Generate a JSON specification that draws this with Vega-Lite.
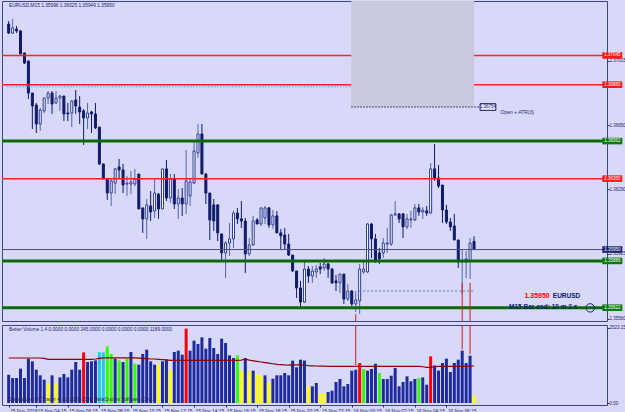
{
"$schema": "https://vega.github.io/schema/vega-lite/v6.json",
"background": "#d8d8f8",
"padding": 0,
"spacing": 2,
"config": {
  "font": "Liberation Sans",
  "view": {"stroke": "#3a4490", "strokeWidth": 1, "fill": "#d8d8f8"},
  "axis": {"labelFont": "Liberation Sans", "labelFontSize": 4.5, "labelColor": "#1c2470", "tickColor": "#1c2470", "tickSize": 2, "labelPadding": 0, "domain": false, "grid": false, "labelOverlap": false}
},
"resolve": {"scale": {"x": "independent", "y": "independent", "color": "independent"}},
"datasets": {
  "levels": [
    {"p": 1.37045, "kind": "res"},
    {"p": 1.36880, "kind": "res"},
    {"p": 1.36562, "kind": "sup"},
    {"p": 1.36350, "kind": "res"},
    {"p": 1.35950, "kind": "bid"},
    {"p": 1.35886, "kind": "sup"},
    {"p": 1.35622, "kind": "sup"}
  ],
  "bars": [
{"t":"2018-11-15T02:30:00Z","o":1.37222,"h":1.37239,"l":1.37166,"c":1.37171,"v":953,"vc":"n","ma":1514},
{"t":"2018-11-15T02:45:00Z","o":1.37171,"h":1.37251,"l":1.37166,"c":1.37200,"v":841,"vc":"n","ma":1514},
{"t":"2018-11-15T03:00:00Z","o":1.37194,"h":1.37211,"l":1.37171,"c":1.37183,"v":841,"vc":"n","ma":1514},
{"t":"2018-11-15T03:15:00Z","o":1.37183,"h":1.37188,"l":1.37053,"c":1.37053,"v":1155,"vc":"n","ma":1514},
{"t":"2018-11-15T03:30:00Z","o":1.37059,"h":1.37059,"l":1.36997,"c":1.37002,"v":841,"vc":"n","ma":1514},
{"t":"2018-11-15T03:45:00Z","o":1.37014,"h":1.37014,"l":1.36799,"c":1.36833,"v":1491,"vc":"n","ma":1514},
{"t":"2018-11-15T04:00:00Z","o":1.36833,"h":1.36833,"l":1.36630,"c":1.36760,"v":1402,"vc":"n","ma":1514},
{"t":"2018-11-15T04:15:00Z","o":1.36765,"h":1.36777,"l":1.36608,"c":1.36658,"v":1121,"vc":"n","ma":1514},
{"t":"2018-11-15T04:30:00Z","o":1.36658,"h":1.36749,"l":1.36619,"c":1.36737,"v":931,"vc":"n","ma":1514},
{"t":"2018-11-15T04:45:00Z","o":1.36732,"h":1.36805,"l":1.36720,"c":1.36805,"v":785,"vc":"n","ma":1500},
{"t":"2018-11-15T05:00:00Z","o":1.36805,"h":1.36844,"l":1.36771,"c":1.36833,"v":673,"vc":"y","ma":1470},
{"t":"2018-11-15T05:15:00Z","o":1.36833,"h":1.36844,"l":1.36715,"c":1.36771,"v":931,"vc":"n","ma":1470},
{"t":"2018-11-15T05:30:00Z","o":1.36777,"h":1.36844,"l":1.36771,"c":1.36805,"v":673,"vc":"y","ma":1470},
{"t":"2018-11-15T05:45:00Z","o":1.36805,"h":1.36822,"l":1.36732,"c":1.36816,"v":863,"vc":"n","ma":1470},
{"t":"2018-11-15T06:00:00Z","o":1.36816,"h":1.36816,"l":1.36675,"c":1.36715,"v":976,"vc":"n","ma":1470},
{"t":"2018-11-15T06:15:00Z","o":1.36720,"h":1.36777,"l":1.36675,"c":1.36715,"v":863,"vc":"n","ma":1470},
{"t":"2018-11-15T06:30:00Z","o":1.36720,"h":1.36794,"l":1.36641,"c":1.36788,"v":1121,"vc":"n","ma":1470},
{"t":"2018-11-15T06:45:00Z","o":1.36794,"h":1.36850,"l":1.36715,"c":1.36760,"v":1379,"vc":"n","ma":1470},
{"t":"2018-11-15T07:00:00Z","o":1.36754,"h":1.36816,"l":1.36658,"c":1.36726,"v":1121,"vc":"n","ma":1470},
{"t":"2018-11-15T07:15:00Z","o":1.36732,"h":1.36743,"l":1.36540,"c":1.36692,"v":1704,"vc":"r","ma":1470},
{"t":"2018-11-15T07:30:00Z","o":1.36692,"h":1.36777,"l":1.36630,"c":1.36720,"v":1379,"vc":"n","ma":1470},
{"t":"2018-11-15T07:45:00Z","o":1.36726,"h":1.36732,"l":1.36608,"c":1.36715,"v":1402,"vc":"n","ma":1470},
{"t":"2018-11-15T08:00:00Z","o":1.36715,"h":1.36777,"l":1.36630,"c":1.36636,"v":1435,"vc":"n","ma":1480},
{"t":"2018-11-15T08:15:00Z","o":1.36641,"h":1.36641,"l":1.36427,"c":1.36433,"v":1704,"vc":"c","ma":1500},
{"t":"2018-11-15T08:30:00Z","o":1.36433,"h":1.36433,"l":1.36348,"c":1.36348,"v":1704,"vc":"c","ma":1520},
{"t":"2018-11-15T08:45:00Z","o":1.36348,"h":1.36354,"l":1.36230,"c":1.36269,"v":1906,"vc":"g","ma":1520},
{"t":"2018-11-15T09:00:00Z","o":1.36269,"h":1.36354,"l":1.36196,"c":1.36337,"v":1648,"vc":"g","ma":1520},
{"t":"2018-11-15T09:15:00Z","o":1.36325,"h":1.36410,"l":1.36263,"c":1.36405,"v":1491,"vc":"n","ma":1520},
{"t":"2018-11-15T09:30:00Z","o":1.36416,"h":1.36461,"l":1.36348,"c":1.36399,"v":1435,"vc":"g","ma":1520},
{"t":"2018-11-15T09:45:00Z","o":1.36399,"h":1.36433,"l":1.36269,"c":1.36314,"v":1379,"vc":"n","ma":1520},
{"t":"2018-11-15T10:00:00Z","o":1.36320,"h":1.36365,"l":1.36252,"c":1.36325,"v":1491,"vc":"g","ma":1520},
{"t":"2018-11-15T10:15:00Z","o":1.36320,"h":1.36393,"l":1.36263,"c":1.36331,"v":1716,"vc":"n","ma":1520},
{"t":"2018-11-15T10:30:00Z","o":1.36320,"h":1.36405,"l":1.36308,"c":1.36348,"v":1323,"vc":"g","ma":1520},
{"t":"2018-11-15T10:45:00Z","o":1.36376,"h":1.36376,"l":1.36179,"c":1.36179,"v":1290,"vc":"n","ma":1510},
{"t":"2018-11-15T11:00:00Z","o":1.36185,"h":1.36185,"l":1.36044,"c":1.36123,"v":1648,"vc":"n","ma":1500},
{"t":"2018-11-15T11:15:00Z","o":1.36123,"h":1.36235,"l":1.36010,"c":1.36202,"v":1794,"vc":"n","ma":1490},
{"t":"2018-11-15T11:30:00Z","o":1.36196,"h":1.36280,"l":1.36111,"c":1.36162,"v":1402,"vc":"n","ma":1480},
{"t":"2018-11-15T11:45:00Z","o":1.36168,"h":1.36348,"l":1.36128,"c":1.36269,"v":1290,"vc":"n","ma":1480},
{"t":"2018-11-15T12:00:00Z","o":1.36263,"h":1.36269,"l":1.36123,"c":1.36179,"v":1290,"vc":"y","ma":1470},
{"t":"2018-11-15T12:15:00Z","o":1.36179,"h":1.36405,"l":1.36179,"c":1.36405,"v":1402,"vc":"n","ma":1460},
{"t":"2018-11-15T12:30:00Z","o":1.36405,"h":1.36455,"l":1.36224,"c":1.36241,"v":1458,"vc":"n","ma":1450},
{"t":"2018-11-15T12:45:00Z","o":1.36241,"h":1.36376,"l":1.36213,"c":1.36348,"v":1121,"vc":"y","ma":1435},
{"t":"2018-11-15T13:00:00Z","o":1.36348,"h":1.36376,"l":1.36179,"c":1.36207,"v":1716,"vc":"n","ma":1435},
{"t":"2018-11-15T13:15:00Z","o":1.36207,"h":1.36291,"l":1.36123,"c":1.36241,"v":1760,"vc":"n","ma":1435},
{"t":"2018-11-15T13:30:00Z","o":1.36241,"h":1.36297,"l":1.36140,"c":1.36207,"v":1626,"vc":"n","ma":1435},
{"t":"2018-11-15T13:45:00Z","o":1.36207,"h":1.36512,"l":1.36151,"c":1.36337,"v":2501,"vc":"r","ma":1435},
{"t":"2018-11-15T14:00:00Z","o":1.36252,"h":1.36354,"l":1.36196,"c":1.36331,"v":1760,"vc":"n","ma":1435},
{"t":"2018-11-15T14:15:00Z","o":1.36325,"h":1.36562,"l":1.36320,"c":1.36506,"v":2097,"vc":"n","ma":1435},
{"t":"2018-11-15T14:30:00Z","o":1.36495,"h":1.36658,"l":1.36467,"c":1.36602,"v":1985,"vc":"n","ma":1435},
{"t":"2018-11-15T14:45:00Z","o":1.36602,"h":1.36658,"l":1.36376,"c":1.36376,"v":2209,"vc":"n","ma":1435},
{"t":"2018-11-15T15:00:00Z","o":1.36376,"h":1.36382,"l":1.36207,"c":1.36269,"v":1828,"vc":"n","ma":1435},
{"t":"2018-11-15T15:15:00Z","o":1.36269,"h":1.36269,"l":1.36004,"c":1.36117,"v":2187,"vc":"n","ma":1435},
{"t":"2018-11-15T15:30:00Z","o":1.36202,"h":1.36235,"l":1.36055,"c":1.36111,"v":1850,"vc":"n","ma":1435},
{"t":"2018-11-15T15:45:00Z","o":1.36202,"h":1.36202,"l":1.35998,"c":1.36044,"v":1648,"vc":"n","ma":1435},
{"t":"2018-11-15T16:00:00Z","o":1.36038,"h":1.36038,"l":1.35886,"c":1.35931,"v":2164,"vc":"n","ma":1435},
{"t":"2018-11-15T16:15:00Z","o":1.35931,"h":1.35998,"l":1.35790,"c":1.35987,"v":2018,"vc":"n","ma":1435},
{"t":"2018-11-15T16:30:00Z","o":1.35987,"h":1.36100,"l":1.35914,"c":1.36010,"v":1604,"vc":"n","ma":1435},
{"t":"2018-11-15T16:45:00Z","o":1.36010,"h":1.36168,"l":1.35959,"c":1.36156,"v":1514,"vc":"n","ma":1435},
{"t":"2018-11-15T17:00:00Z","o":1.36156,"h":1.36185,"l":1.36094,"c":1.36123,"v":1604,"vc":"g","ma":1435},
{"t":"2018-11-15T17:15:00Z","o":1.36123,"h":1.36224,"l":1.36072,"c":1.36111,"v":1088,"vc":"y","ma":1440},
{"t":"2018-11-15T17:30:00Z","o":1.36111,"h":1.36128,"l":1.35818,"c":1.35925,"v":1514,"vc":"n","ma":1480},
{"t":"2018-11-15T17:45:00Z","o":1.35925,"h":1.36015,"l":1.35914,"c":1.35976,"v":1065,"vc":"y","ma":1440},
{"t":"2018-11-15T18:00:00Z","o":1.35976,"h":1.36140,"l":1.35970,"c":1.36111,"v":1088,"vc":"n","ma":1420},
{"t":"2018-11-15T18:15:00Z","o":1.36117,"h":1.36128,"l":1.36094,"c":1.36094,"v":976,"vc":"y","ma":1400},
{"t":"2018-11-15T18:30:00Z","o":1.36094,"h":1.36185,"l":1.36083,"c":1.36185,"v":897,"vc":"y","ma":1380},
{"t":"2018-11-15T18:45:00Z","o":1.36128,"h":1.36196,"l":1.36094,"c":1.36185,"v":931,"vc":"n","ma":1360},
{"t":"2018-11-15T19:00:00Z","o":1.36185,"h":1.36190,"l":1.36072,"c":1.36089,"v":706,"vc":"y","ma":1340},
{"t":"2018-11-15T19:15:00Z","o":1.36089,"h":1.36173,"l":1.36066,"c":1.36140,"v":819,"vc":"n","ma":1320},
{"t":"2018-11-15T19:30:00Z","o":1.36140,"h":1.36168,"l":1.36044,"c":1.36044,"v":931,"vc":"n","ma":1300},
{"t":"2018-11-15T19:45:00Z","o":1.36044,"h":1.36066,"l":1.35953,"c":1.36027,"v":931,"vc":"n","ma":1290},
{"t":"2018-11-15T20:00:00Z","o":1.36032,"h":1.36072,"l":1.35953,"c":1.35981,"v":1009,"vc":"n","ma":1280},
{"t":"2018-11-15T20:15:00Z","o":1.35981,"h":1.36038,"l":1.35914,"c":1.35919,"v":931,"vc":"n","ma":1275},
{"t":"2018-11-15T20:30:00Z","o":1.35919,"h":1.35919,"l":1.35824,"c":1.35829,"v":1424,"vc":"n","ma":1280},
{"t":"2018-11-15T20:45:00Z","o":1.35829,"h":1.35829,"l":1.35677,"c":1.35733,"v":1200,"vc":"n","ma":1280},
{"t":"2018-11-15T21:00:00Z","o":1.35733,"h":1.35773,"l":1.35615,"c":1.35654,"v":1458,"vc":"n","ma":1280},
{"t":"2018-11-15T21:15:00Z","o":1.35654,"h":1.35891,"l":1.35649,"c":1.35840,"v":1430,"vc":"n","ma":1270},
{"t":"2018-11-15T21:30:00Z","o":1.35840,"h":1.35857,"l":1.35762,"c":1.35801,"v":561,"vc":"y","ma":1255},
{"t":"2018-11-15T21:45:00Z","o":1.35801,"h":1.35857,"l":1.35762,"c":1.35829,"v":561,"vc":"n","ma":1250},
{"t":"2018-11-15T22:00:00Z","o":1.35824,"h":1.35863,"l":1.35790,"c":1.35840,"v":673,"vc":"n","ma":1245},
{"t":"2018-11-15T22:15:00Z","o":1.35852,"h":1.35874,"l":1.35812,"c":1.35840,"v":303,"vc":"y","ma":1240},
{"t":"2018-11-15T22:30:00Z","o":1.35846,"h":1.35902,"l":1.35829,"c":1.35869,"v":303,"vc":"y","ma":1240},
{"t":"2018-11-15T22:45:00Z","o":1.35869,"h":1.35874,"l":1.35790,"c":1.35840,"v":370,"vc":"n","ma":1235},
{"t":"2018-11-15T23:00:00Z","o":1.35840,"h":1.35846,"l":1.35756,"c":1.35762,"v":415,"vc":"n","ma":1234},
{"t":"2018-11-15T23:15:00Z","o":1.35773,"h":1.35807,"l":1.35716,"c":1.35762,"v":706,"vc":"n","ma":1234},
{"t":"2018-11-15T23:30:00Z","o":1.35762,"h":1.35812,"l":1.35705,"c":1.35812,"v":807,"vc":"n","ma":1234},
{"t":"2018-11-15T23:45:00Z","o":1.35812,"h":1.35812,"l":1.35643,"c":1.35671,"v":561,"vc":"n","ma":1234},
{"t":"2018-11-16T00:00:00Z","o":1.35671,"h":1.35756,"l":1.35660,"c":1.35716,"v":639,"vc":"n","ma":1234},
{"t":"2018-11-16T00:15:00Z","o":1.35716,"h":1.35722,"l":1.35632,"c":1.35643,"v":1088,"vc":"n","ma":1234},
{"t":"2018-11-16T00:30:00Z","o":1.35643,"h":1.35716,"l":1.35598,"c":1.35666,"v":1121,"vc":"n","ma":1234},
{"t":"2018-11-16T00:45:00Z","o":1.35660,"h":1.35869,"l":1.35587,"c":1.35840,"v":1346,"vc":"r","ma":1234},
{"t":"2018-11-16T01:00:00Z","o":1.35824,"h":1.35891,"l":1.35812,"c":1.35840,"v":1144,"vc":"g","ma":1234},
{"t":"2018-11-16T01:15:00Z","o":1.35824,"h":1.36100,"l":1.35818,"c":1.36094,"v":1088,"vc":"n","ma":1234},
{"t":"2018-11-16T01:30:00Z","o":1.36094,"h":1.36100,"l":1.35902,"c":1.36010,"v":1144,"vc":"n","ma":1234},
{"t":"2018-11-16T01:45:00Z","o":1.36010,"h":1.36038,"l":1.35874,"c":1.35891,"v":1323,"vc":"n","ma":1234},
{"t":"2018-11-16T02:00:00Z","o":1.35931,"h":1.35959,"l":1.35869,"c":1.35897,"v":1009,"vc":"g","ma":1234},
{"t":"2018-11-16T02:15:00Z","o":1.35931,"h":1.36015,"l":1.35902,"c":1.35987,"v":807,"vc":"n","ma":1234},
{"t":"2018-11-16T02:30:00Z","o":1.35981,"h":1.36072,"l":1.35931,"c":1.35987,"v":807,"vc":"n","ma":1234},
{"t":"2018-11-16T02:45:00Z","o":1.35981,"h":1.36151,"l":1.35970,"c":1.36145,"v":919,"vc":"n","ma":1234},
{"t":"2018-11-16T03:00:00Z","o":1.36145,"h":1.36224,"l":1.36140,"c":1.36151,"v":1177,"vc":"n","ma":1234},
{"t":"2018-11-16T03:15:00Z","o":1.36151,"h":1.36156,"l":1.36100,"c":1.36123,"v":561,"vc":"n","ma":1234},
{"t":"2018-11-16T03:30:00Z","o":1.36151,"h":1.36156,"l":1.36015,"c":1.36078,"v":706,"vc":"n","ma":1234},
{"t":"2018-11-16T03:45:00Z","o":1.36078,"h":1.36151,"l":1.36066,"c":1.36123,"v":897,"vc":"n","ma":1234},
{"t":"2018-11-16T04:00:00Z","o":1.36117,"h":1.36168,"l":1.36072,"c":1.36123,"v":729,"vc":"n","ma":1234},
{"t":"2018-11-16T04:15:00Z","o":1.36117,"h":1.36207,"l":1.36111,"c":1.36185,"v":807,"vc":"n","ma":1234},
{"t":"2018-11-16T04:30:00Z","o":1.36185,"h":1.36207,"l":1.36140,"c":1.36162,"v":841,"vc":"g","ma":1234},
{"t":"2018-11-16T04:45:00Z","o":1.36162,"h":1.36190,"l":1.36123,"c":1.36173,"v":863,"vc":"n","ma":1220},
{"t":"2018-11-16T05:00:00Z","o":1.36168,"h":1.36196,"l":1.36140,"c":1.36156,"v":617,"vc":"n","ma":1200},
{"t":"2018-11-16T05:15:00Z","o":1.36156,"h":1.36438,"l":1.36151,"c":1.36405,"v":1570,"vc":"r","ma":1200},
{"t":"2018-11-16T05:30:00Z","o":1.36405,"h":1.36545,"l":1.36337,"c":1.36354,"v":1267,"vc":"n","ma":1220},
{"t":"2018-11-16T05:45:00Z","o":1.36354,"h":1.36427,"l":1.36297,"c":1.36308,"v":1088,"vc":"n","ma":1234},
{"t":"2018-11-16T06:00:00Z","o":1.36314,"h":1.36314,"l":1.36100,"c":1.36173,"v":1346,"vc":"n","ma":1234},
{"t":"2018-11-16T06:15:00Z","o":1.36173,"h":1.36202,"l":1.36094,"c":1.36106,"v":1491,"vc":"n","ma":1234},
{"t":"2018-11-16T06:30:00Z","o":1.36106,"h":1.36128,"l":1.36055,"c":1.36078,"v":1043,"vc":"n","ma":1234},
{"t":"2018-11-16T06:45:00Z","o":1.36083,"h":1.36151,"l":1.36004,"c":1.36004,"v":1346,"vc":"n","ma":1234},
{"t":"2018-11-16T07:00:00Z","o":1.36004,"h":1.36004,"l":1.35846,"c":1.35880,"v":1458,"vc":"n","ma":1234},
{"t":"2018-11-16T07:15:00Z","o":1.35880,"h":1.35948,"l":1.35700,"c":1.35886,"v":1760,"vc":"n","ma":1234},
{"t":"2018-11-16T07:30:00Z","o":1.35880,"h":1.35942,"l":1.35790,"c":1.35897,"v":1346,"vc":"n","ma":1234},
{"t":"2018-11-16T07:45:00Z","o":1.35886,"h":1.36015,"l":1.35784,"c":1.35987,"v":1592,"vc":"n","ma":1240},
{"t":"2018-11-16T08:00:00Z","o":1.35996,"h":1.36025,"l":1.35949,"c":1.35950,"v":258,"vc":"y","ma":1245}
  ]
},
"vconcat": [
 {
  "width": 605, "height": 320,
  "data": {"name": "bars"},
  "layer": [
   {"mark": {"type": "rule", "strokeWidth": 1},
    "encoding": {
      "x": {"field": "t", "type": "temporal", "axis": null,
            "scale": {"type": "utc", "domain": [{"year":2018,"month":11,"date":15,"hours":2,"minutes":23,"seconds":36,"utc":true},{"year":2018,"month":11,"date":16,"hours":16,"minutes":6,"seconds":45,"utc":true}]}},
      "y": {"field": "l", "type": "quantitative",
            "scale": {"domain": [1.35547, 1.37352], "nice": false, "zero": false},
            "axis": {"orient": "right", "title": null, "format": ".5f", "labelOverlap": false,
                     "values": [1.37290,1.37195,1.37105,1.37015,1.36925,1.36835,1.36740,1.36650,1.36560,1.36470,1.36380,1.36290,1.36200,1.36105,1.36015,1.35925,1.35835,1.35745,1.35655,1.35560]}},
      "y2": {"field": "h"},
      "color": {"condition": {"test": "datum.c >= datum.o", "value": "#5466aa"}, "value": "#101c6a"}
    }},
   {"mark": {"type": "bar", "width": 2, "strokeWidth": 1},
    "encoding": {
      "x": {"field": "t", "type": "temporal"},
      "y": {"field": "o", "type": "quantitative"},
      "y2": {"field": "c"},
      "fill": {"condition": {"test": "datum.c >= datum.o", "value": "#ffffff"}, "value": "#101c6a"},
      "stroke": {"condition": {"test": "datum.c >= datum.o", "value": "#2a3c90"}, "value": "#101c6a"}
    }},
   {"data": {"name": "levels"},
    "transform": [{"filter": "datum.kind == 'res'"}],
    "mark": {"type": "rule", "color": "#ff2222", "strokeWidth": 1.5},
    "encoding": {"y": {"field": "p", "type": "quantitative"}}},
   {"data": {"name": "levels"},
    "transform": [{"filter": "datum.kind == 'sup'"}],
    "mark": {"type": "rule", "color": "#0a6a0a", "strokeWidth": 3},
    "encoding": {"y": {"field": "p", "type": "quantitative"}}},
   {"data": {"name": "levels"},
    "transform": [{"filter": "datum.kind == 'bid'"}],
    "mark": {"type": "rule", "color": "#50506e", "strokeWidth": 1},
    "encoding": {"y": {"field": "p", "type": "quantitative"}}},
   {"data": {"values": [{}]},
    "mark": {"type": "rule", "color": "#6aa0ff", "strokeDash": [1.5, 1.5], "strokeWidth": 1},
    "encoding": {
      "x": {"datum": {"year":2018,"month":11,"date":15,"hours":2,"minutes":24,"utc":true}, "type": "temporal"},
      "x2": {"datum": {"year":2018,"month":11,"date":16,"hours":0,"minutes":13,"utc":true}},
      "y": {"datum": 1.36868}
    }},
   {"data": {"values": [{}]},
    "mark": {"type": "rect", "color": "#c9c9dd"},
    "encoding": {
      "x": {"datum": {"year":2018,"month":11,"date":16,"hours":0,"minutes":13,"utc":true}, "type": "temporal"},
      "x2": {"datum": {"year":2018,"month":11,"date":16,"hours":8,"minutes":0,"utc":true}},
      "y": {"datum": 1.36754},
      "y2": {"datum": 1.37352}
    }},
   {"data": {"values": [{}]},
    "mark": {"type": "rule", "color": "#1c2470", "strokeDash": [1.5, 1.5], "strokeWidth": 1},
    "encoding": {
      "x": {"datum": {"year":2018,"month":11,"date":16,"hours":0,"minutes":13,"utc":true}, "type": "temporal"},
      "x2": {"datum": {"year":2018,"month":11,"date":16,"hours":8,"minutes":23,"utc":true}},
      "y": {"datum": 1.36754}
    }},
   {"data": {"values": [{}]},
    "mark": {"type": "rect", "fill": "#e6e6fb", "stroke": "#1c2470", "strokeWidth": 1},
    "encoding": {
      "x": {"datum": {"year":2018,"month":11,"date":16,"hours":8,"minutes":23,"utc":true}, "type": "temporal"},
      "x2": {"datum": {"year":2018,"month":11,"date":16,"hours":9,"minutes":23,"utc":true}},
      "y": {"datum": 1.36735},
      "y2": {"datum": 1.36773}
    }},
   {"data": {"values": [{}]},
    "mark": {"type": "text", "fontSize": 4.5, "color": "#1c2470", "align": "center", "baseline": "middle", "text": "1.36754"},
    "encoding": {
      "x": {"datum": {"year":2018,"month":11,"date":16,"hours":8,"minutes":53,"utc":true}, "type": "temporal"},
      "y": {"datum": 1.36754}
    }},
   {"data": {"values": [{}]},
    "mark": {"type": "text", "fontSize": 5, "color": "#1c2470", "align": "left", "baseline": "middle", "text": "Open + ATR(3)"},
    "encoding": {
      "x": {"datum": {"year":2018,"month":11,"date":16,"hours":9,"minutes":41,"utc":true}, "type": "temporal"},
      "y": {"datum": 1.36726}
    }},
   {"data": {"values": [{}]},
    "mark": {"type": "rule", "color": "#4a80ff", "strokeDash": [2, 2], "strokeWidth": 1},
    "encoding": {
      "x": {"datum": {"year":2018,"month":11,"date":16,"hours":0,"minutes":43,"utc":true}, "type": "temporal"},
      "x2": {"datum": {"year":2018,"month":11,"date":16,"hours":8,"minutes":0,"utc":true}},
      "y": {"datum": 1.35716}
    }},
   {"data": {"values": [{}]},
    "mark": {"type": "rule", "color": "#d41818", "strokeWidth": 1},
    "encoding": {
      "x": {"datum": {"year":2018,"month":11,"date":16,"hours":0,"minutes":30,"utc":true}, "type": "temporal"},
      "y": {"datum": 1.35585},
      "y2": {"datum": 1.35547}
    }},
   {"data": {"values": [{}]},
    "mark": {"type": "rule", "color": "#d41818", "strokeWidth": 1},
    "encoding": {
      "x": {"datum": {"year":2018,"month":11,"date":16,"hours":7,"minutes":15,"utc":true}, "type": "temporal"},
      "y": {"datum": 1.35762},
      "y2": {"datum": 1.35547}
    }},
   {"data": {"values": [{}]},
    "mark": {"type": "rule", "color": "#d41818", "strokeWidth": 1},
    "encoding": {
      "x": {"datum": {"year":2018,"month":11,"date":16,"hours":7,"minutes":45,"utc":true}, "type": "temporal"},
      "y": {"datum": 1.35762},
      "y2": {"datum": 1.35547}
    }},
   {"data": {"values": [{}]},
    "mark": {"type": "text", "fontSize": 4.8, "color": "#1c2470", "align": "left", "baseline": "middle", "text": "EURUSD,M15  1.35996 1.36025 1.35949 1.35950"},
    "encoding": {
      "x": {"datum": {"year":2018,"month":11,"date":15,"hours":2,"minutes":31,"utc":true}, "type": "temporal"},
      "y": {"datum": 1.37324}
    }},
   {"data": {"values": [{}]},
    "mark": {"type": "text", "fontSize": 7, "fontWeight": "bold", "color": "#ff0000", "align": "right", "baseline": "middle", "text": "1.35950"},
    "encoding": {
      "x": {"datum": {"year":2018,"month":11,"date":16,"hours":12,"minutes":48,"utc":true}, "type": "temporal"},
      "y": {"datum": 1.35688}
    }},
   {"data": {"values": [{}]},
    "mark": {"type": "text", "fontSize": 6.5, "fontWeight": "bold", "color": "#0c1a6c", "align": "right", "baseline": "middle", "text": "EURUSD"},
    "encoding": {
      "x": {"datum": {"year":2018,"month":11,"date":16,"hours":14,"minutes":44,"utc":true}, "type": "temporal"},
      "y": {"datum": 1.35688}
    }},
   {"data": {"values": [{}]},
    "mark": {"type": "text", "fontSize": 6.5, "fontWeight": "bold", "color": "#0c1a6c", "align": "right", "baseline": "middle", "text": "M15 Bar end: 10 m 2 s"},
    "encoding": {
      "x": {"datum": {"year":2018,"month":11,"date":16,"hours":14,"minutes":33,"utc":true}, "type": "temporal"},
      "y": {"datum": 1.35626}
    }},
   {"data": {"values": [{}]},
    "mark": {"type": "point", "shape": "circle", "size": 70, "filled": false, "color": "#0c1a6c", "strokeWidth": 1, "opacity": 1},
    "encoding": {
      "x": {"datum": {"year":2018,"month":11,"date":16,"hours":15,"minutes":22,"utc":true}, "type": "temporal"},
      "y": {"datum": 1.35621}
    }},
   {"data": {"name": "levels"},
    "mark": {"type": "point", "shape": "M-1,-0.33H1V0.33H-1Z", "filled": true, "size": 400, "opacity": 1},
    "encoding": {
      "x": {"datum": {"year":2018,"month":11,"date":16,"hours":16,"minutes":46,"utc":true}, "type": "temporal"},
      "y": {"field": "p", "type": "quantitative"},
      "color": {"field": "kind", "type": "nominal", "legend": null,
                "scale": {"domain": ["res", "sup", "bid"], "range": ["#ff1a1a", "#0a7a0a", "#1c2470"]}}
    }},
   {"data": {"name": "levels"},
    "mark": {"type": "text", "fontSize": 4.5, "color": "#ffffff", "align": "center", "baseline": "middle"},
    "encoding": {
      "x": {"datum": {"year":2018,"month":11,"date":16,"hours":16,"minutes":46,"utc":true}, "type": "temporal"},
      "y": {"field": "p", "type": "quantitative"},
      "text": {"field": "p", "format": ".5f"}
    }}
  ]
 },
 {
  "width": 605, "height": 80,
  "data": {"name": "bars"},
  "layer": [
   {"mark": {"type": "bar", "width": 3},
    "encoding": {
      "x": {"field": "t", "type": "temporal",
            "scale": {"type": "utc", "domain": [{"year":2018,"month":11,"date":15,"hours":2,"minutes":23,"seconds":36,"utc":true},{"year":2018,"month":11,"date":16,"hours":16,"minutes":6,"seconds":45,"utc":true}]},
            "axis": {"orient": "bottom", "title": null, "labelAlign": "left", "labelOffset": 1, "labelOverlap": false, "labelFlush": false, "labelBaseline": "top", "labelFontSize": 4.8, "labelPadding": 1,
                     "labelExpr": "utcFormat(datum.value, '%H:%M') == '02:30' ? '15 Nov 2018' : utcFormat(datum.value, '%d %b %H:%M')",
                     "values": [
                       {"year":2018,"month":11,"date":15,"hours":2,"minutes":30,"utc":true},
                       {"year":2018,"month":11,"date":15,"hours":4,"minutes":15,"utc":true},
                       {"year":2018,"month":11,"date":15,"hours":6,"minutes":15,"utc":true},
                       {"year":2018,"month":11,"date":15,"hours":8,"minutes":15,"utc":true},
                       {"year":2018,"month":11,"date":15,"hours":10,"minutes":15,"utc":true},
                       {"year":2018,"month":11,"date":15,"hours":12,"minutes":15,"utc":true},
                       {"year":2018,"month":11,"date":15,"hours":14,"minutes":15,"utc":true},
                       {"year":2018,"month":11,"date":15,"hours":16,"minutes":15,"utc":true},
                       {"year":2018,"month":11,"date":15,"hours":18,"minutes":15,"utc":true},
                       {"year":2018,"month":11,"date":15,"hours":20,"minutes":15,"utc":true},
                       {"year":2018,"month":11,"date":15,"hours":22,"minutes":15,"utc":true},
                       {"year":2018,"month":11,"date":16,"hours":0,"minutes":15,"utc":true},
                       {"year":2018,"month":11,"date":16,"hours":2,"minutes":15,"utc":true},
                       {"year":2018,"month":11,"date":16,"hours":4,"minutes":15,"utc":true},
                       {"year":2018,"month":11,"date":16,"hours":6,"minutes":15,"utc":true}
                     ]}},
      "y": {"field": "v", "type": "quantitative",
            "scale": {"domain": [-67, 2624], "nice": false, "zero": false},
            "axis": {"orient": "right", "title": null, "format": ".2f", "values": [0, 2523.15], "labelOverlap": false}},
      "y2": {"datum": 0},
      "color": {"field": "vc", "type": "nominal", "legend": null,
                "scale": {"domain": ["n", "y", "g", "r", "c"], "range": ["#1f2b9c", "#ffff00", "#33ff00", "#ff0000", "#22c8e8"]}}
    }},
   {"mark": {"type": "line", "color": "#8b0000", "strokeWidth": 1.2},
    "encoding": {
      "x": {"field": "t", "type": "temporal"},
      "y": {"field": "ma", "type": "quantitative"}
    }},
   {"data": {"values": [{}]},
    "mark": {"type": "rule", "color": "#d41818", "strokeWidth": 1},
    "encoding": {
      "x": {"datum": {"year":2018,"month":11,"date":16,"hours":0,"minutes":30,"utc":true}, "type": "temporal"},
      "y": {"datum": 2624},
      "y2": {"datum": 1278}
    }},
   {"data": {"values": [{}]},
    "mark": {"type": "rule", "color": "#d41818", "strokeWidth": 1},
    "encoding": {
      "x": {"datum": {"year":2018,"month":11,"date":16,"hours":7,"minutes":15,"utc":true}, "type": "temporal"},
      "y": {"datum": 2624},
      "y2": {"datum": 1800}
    }},
   {"data": {"values": [{}]},
    "mark": {"type": "rule", "color": "#d41818", "strokeWidth": 1},
    "encoding": {
      "x": {"datum": {"year":2018,"month":11,"date":16,"hours":7,"minutes":45,"utc":true}, "type": "temporal"},
      "y": {"datum": 2624},
      "y2": {"datum": 1650}
    }},
   {"data": {"values": [{}]},
    "mark": {"type": "text", "fontSize": 4.8, "color": "#1c2470", "align": "left", "baseline": "middle", "text": "Better Volume 1.4 0.0000 0.0000 245.0000 0.0000 0.0000 0.0000 1189.0000"},
    "encoding": {
      "x": {"datum": {"year":2018,"month":11,"date":15,"hours":2,"minutes":31,"utc":true}, "type": "temporal"},
      "y": {"datum": 2470}
    }},
   {"data": {"values": [{}]},
    "mark": {"type": "text", "fontSize": 4.8, "color": "#2a2a50", "align": "left", "baseline": "middle", "text": "Standalone FX Trader 4, (c) 2005-2009 MetaQuotes Software Corp."},
    "encoding": {
      "x": {"datum": {"year":2018,"month":11,"date":15,"hours":2,"minutes":31,"utc":true}, "type": "temporal"},
      "y": {"datum": 110}
    }}
  ]
 }
]
}
